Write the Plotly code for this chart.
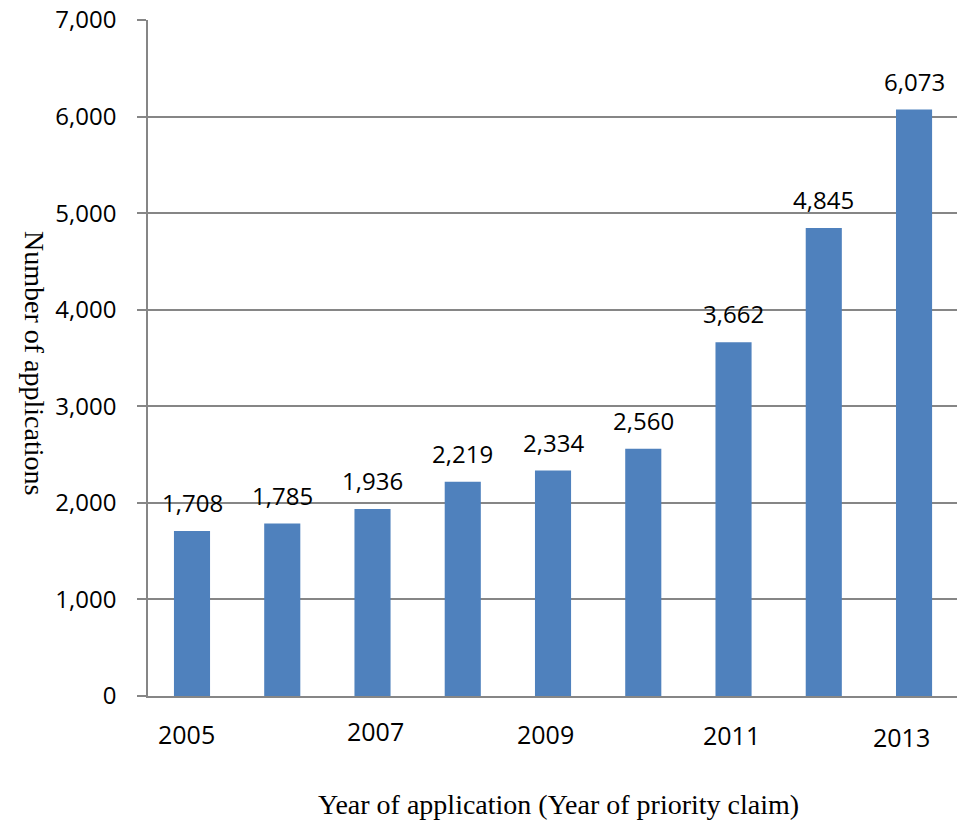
import plotly.graph_objects as go

years = ["2005", "2006", "2007", "2008", "2009", "2010", "2011", "2012", "2013"]
applications = [1708, 1785, 1936, 2219, 2334, 2560, 3662, 4845, 6073]
shown_years = ["2005", "2007", "2009", "2011", "2013"]
y_ticks = [0, 1000, 2000, 3000, 4000, 5000, 6000, 7000]

# small visual offsets of the year labels (px), as in the reference
label_dx = [-6, 3, -8, -2, -13]
label_dy = [-38, -35, -38, -38.5, -41]

SANS = "Open Sans"
SERIF = "Liberation Serif, Times New Roman, serif"
GRID = "#868686"

fig = go.Figure()
fig.add_trace(go.Bar(
    x=years, y=applications,
    marker=dict(color="#4F81BD", line=dict(width=0)),
    hoverinfo="x+y",
))

annotations = []
for i, v in enumerate(applications):
    annotations.append(dict(
        x=i, y=v, xref="x", yref="y", text=f"{v:,}", showarrow=False,
        yanchor="bottom", yshift=10, font=dict(family=SANS, size=24, color="black"),
    ))
for yr, dx, dy in zip(shown_years, label_dx, label_dy):
    annotations.append(dict(
        x=years.index(yr), y=0, xref="x", yref="paper", text=yr, showarrow=False,
        yanchor="middle", xshift=dx, yshift=dy,
        font=dict(family=SANS, size=25, color="black"),
    ))
annotations.append(dict(
    x=0.5, y=0, xref="paper", yref="paper", xshift=5.5, yshift=-108,
    text="Year of application (Year of priority claim)", showarrow=False,
    yanchor="middle", font=dict(family=SERIF, size=28, color="black"),
))
annotations.append(dict(
    x=0, y=(696 - 363) / 676, xref="paper", yref="paper", xshift=-113,
    text="Number of applications", showarrow=False, textangle=90,
    xanchor="center", yanchor="middle",
    font=dict(family=SERIF, size=28, color="black"),
))

fig.update_layout(
    width=957, height=827,
    margin=dict(l=148, r=0, t=20, b=131),
    paper_bgcolor="white", plot_bgcolor="white",
    bargap=0.6,
    showlegend=False,
    annotations=annotations,
    xaxis=dict(
        type="category", range=[-0.4875, 8.476],
        showticklabels=False, ticks="", showgrid=False,
        showline=True, linecolor=GRID, linewidth=1.5, zeroline=False,
    ),
    yaxis=dict(
        range=[0, 7000], tickvals=y_ticks, tickformat=",d",
        showgrid=True, gridcolor=GRID, gridwidth=1.5,
        showline=True, linecolor=GRID, linewidth=1.5,
        ticks="outside", ticklen=9, tickcolor=GRID, tickwidth=1.5,
        tickfont=dict(family=SANS, size=24, color="black"),
        ticklabelstandoff=16, zeroline=False,
    ),
)

fig.write_html("out.html")
